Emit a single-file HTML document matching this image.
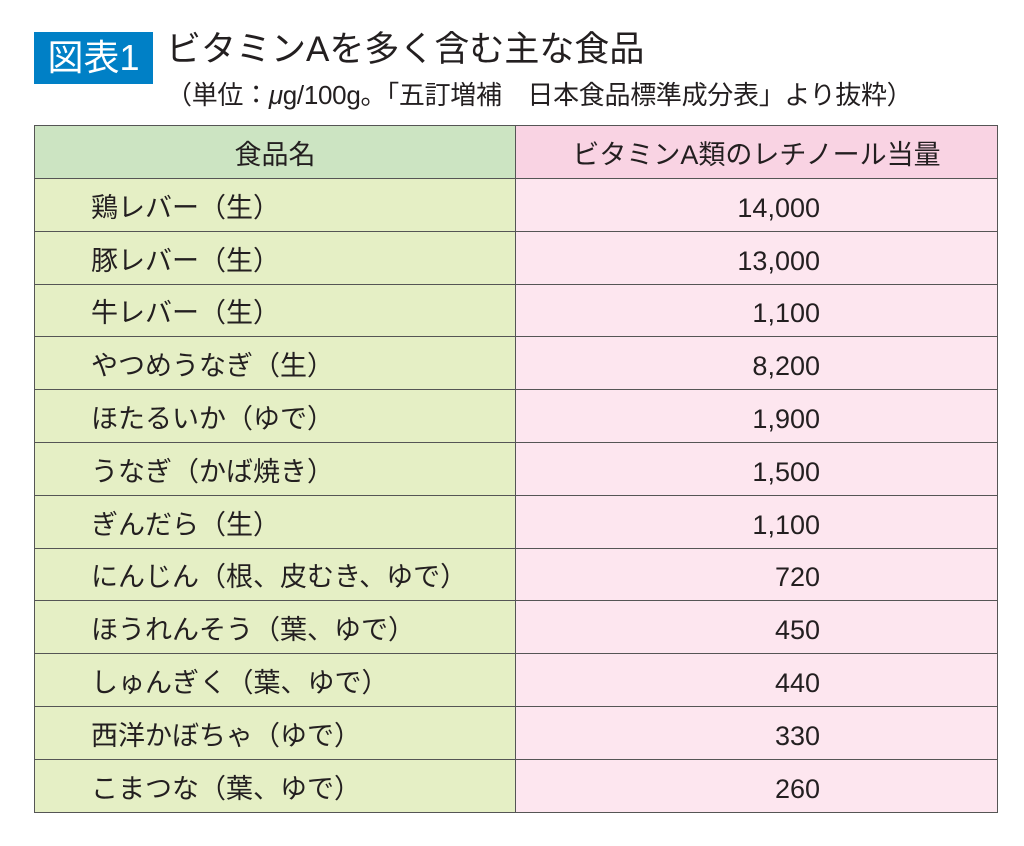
<!DOCTYPE html>
<html><head><meta charset="utf-8"><style>
*{margin:0;padding:0;box-sizing:border-box}
body{width:1024px;height:846px;background:#fff;position:relative;font-family:"Liberation Sans","Noto Sans CJK JP",sans-serif;color:#231f20;overflow:hidden}
.badge{position:absolute;left:34px;top:32px;width:119px;height:52px;background:#0080c6;color:#fff;font-size:36px;line-height:52px;text-align:center}
.t{position:absolute;left:166px;top:28px;font-size:35px;line-height:44px;white-space:nowrap}
.s{position:absolute;left:166px;top:79px;font-size:26px;line-height:32px;white-space:nowrap;letter-spacing:-0.3px}
table{position:absolute;left:34px;top:125px;width:964px;border-collapse:collapse}
td{border:1.5px solid #555;height:52.8px;font-size:27px;line-height:1;padding-top:7px}
td.a{width:481px;background:#e5efc5;padding-left:56px}
td.b{background:#fde6ef;text-align:right;padding-right:177px}
tr.h td{height:53px;text-align:center;padding:6px 0 0 0}
tr.h td.a{background:#cce4c2}
tr.h td.b{background:#f9d3e3}
</style></head><body>
<div class="badge">図表1</div>
<div class="t">ビタミンAを多く含む主な食品</div>
<div class="s">（単位：<i>μ</i>g/100g。「五訂増補　日本食品標準成分表」より抜粋）</div>
<table>
<tr class="h"><td class="a">食品名</td><td class="b">ビタミンA類のレチノール当量</td></tr>
<tr><td class="a">鶏レバー（生）</td><td class="b">14,000</td></tr>
<tr><td class="a">豚レバー（生）</td><td class="b">13,000</td></tr>
<tr><td class="a">牛レバー（生）</td><td class="b">1,100</td></tr>
<tr><td class="a">やつめうなぎ（生）</td><td class="b">8,200</td></tr>
<tr><td class="a">ほたるいか（ゆで）</td><td class="b">1,900</td></tr>
<tr><td class="a">うなぎ（かば焼き）</td><td class="b">1,500</td></tr>
<tr><td class="a">ぎんだら（生）</td><td class="b">1,100</td></tr>
<tr><td class="a">にんじん（根、皮むき、ゆで）</td><td class="b">720</td></tr>
<tr><td class="a">ほうれんそう（葉、ゆで）</td><td class="b">450</td></tr>
<tr><td class="a">しゅんぎく（葉、ゆで）</td><td class="b">440</td></tr>
<tr><td class="a">西洋かぼちゃ（ゆで）</td><td class="b">330</td></tr>
<tr><td class="a">こまつな（葉、ゆで）</td><td class="b">260</td></tr>
</table>
</body></html>
